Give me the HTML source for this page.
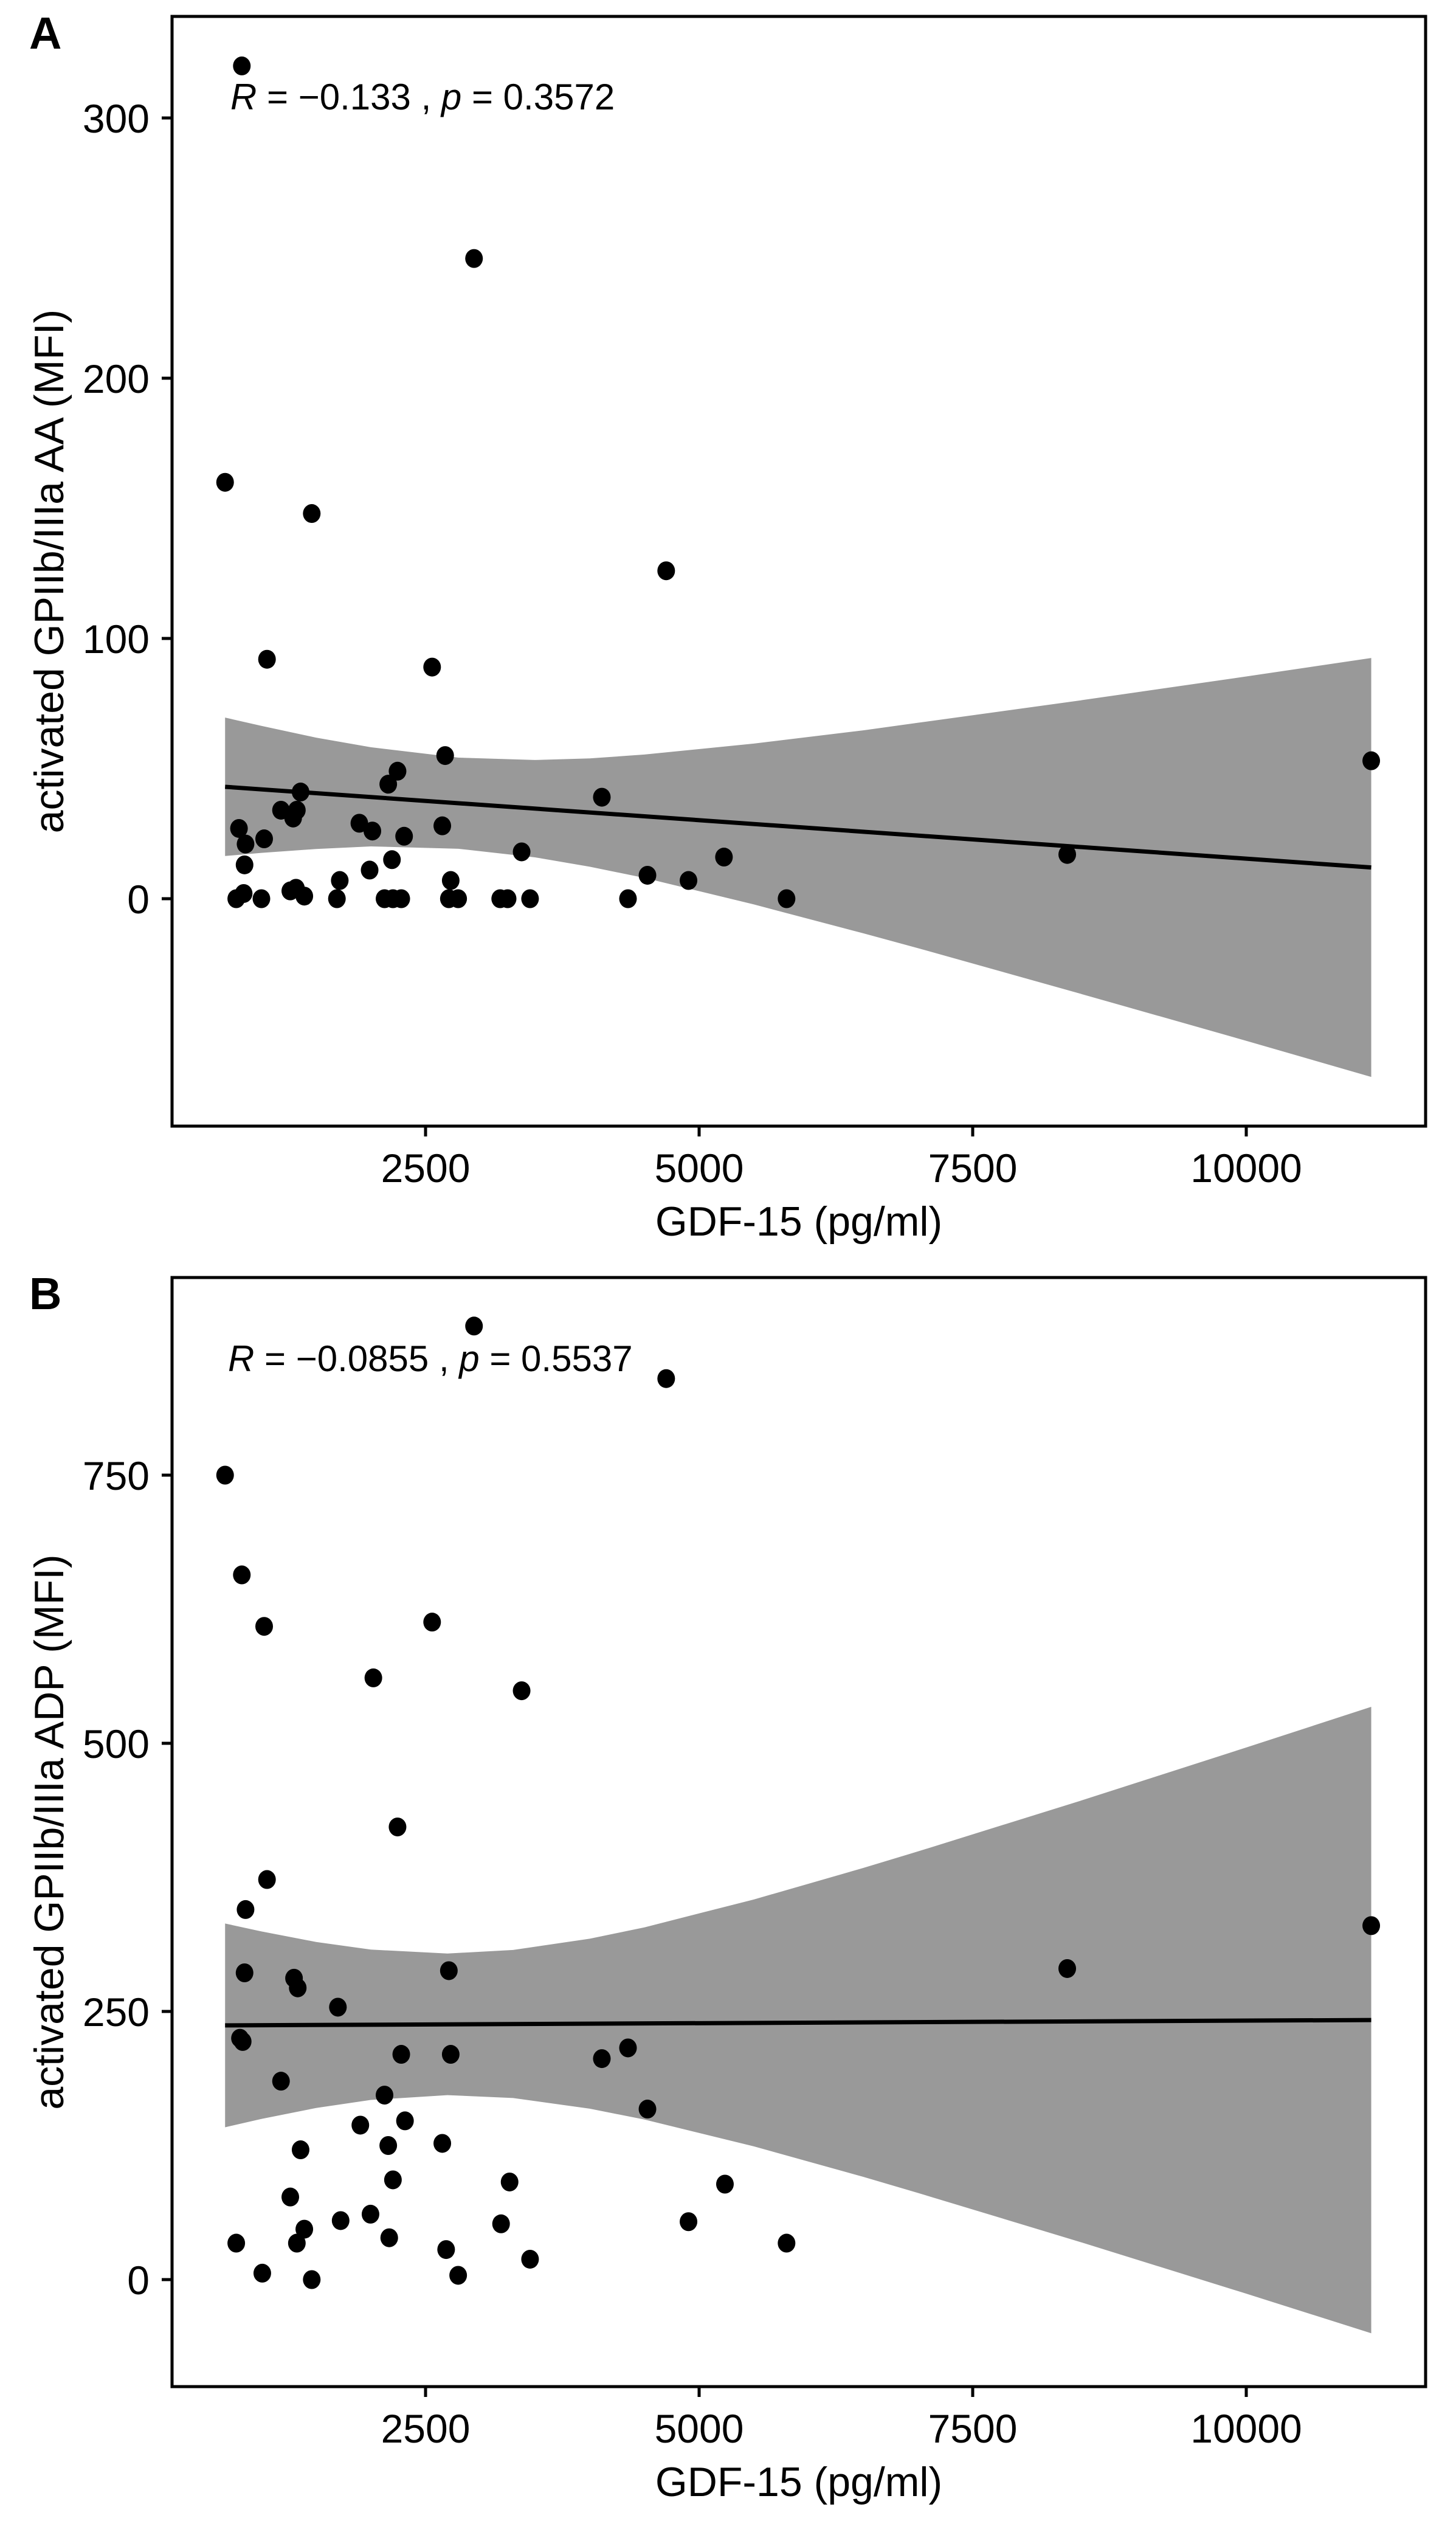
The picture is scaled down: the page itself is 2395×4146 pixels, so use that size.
<!DOCTYPE html>
<html><head><meta charset="utf-8">
<style>
html,body{margin:0;padding:0;background:#fff;}
svg{display:block;}
text{font-family:"Liberation Sans",Arial,sans-serif;fill:#000;}
</style></head>
<body>
<svg id="fig" width="2395" height="4146" viewBox="0 0 2395 4146" xmlns="http://www.w3.org/2000/svg">
<rect x="0" y="0" width="2395" height="4146" fill="#ffffff"/>
</svg>
<script>
// ---------- shared x data ----------
const xTicks = [2500, 5000, 7500, 10000];
const xTickLabels = ["2500", "5000", "7500", "10000"];

// ---------- Panel A data ----------
const aGdf = [821,668,2943,1460,4699,1051,2560,2679,11142,2244,2159,1358,4111,1179,1324,1290,795,1895,2014,2653,1025,2304,855,3378,5227,8364,2193,846,1989,4528,4903,1716,2730,1264,1316,1392,838,770,1000,1690,2125,2202,2278,2713,2798,3182,3250,3455,4350,5799];
const aVal = [320,160,246,148,126,92,89,55,53,49,44,41,39,34,34,31,27,29,26,28,23,24,21,18,16,17,15,13,11,9,7,7,7,3,4,1,2,0,0,0,0,0,0,0,0,0,0,0,0,0];
const aYTicks = [0, 100, 200, 300];
const aYTickLabels = ["0", "100", "200", "300"];
const aBandX = [668,1000,1500,2000,2800,3500,4000,4500,5500,6500,7000,8500,10000,11142];
const aBandUpper = [69.6,66.4,61.9,58.2,54.2,53.3,53.9,55.4,59.6,64.7,67.6,76.3,85.4,92.5];
const aBandLower = [16.4,17.6,19.1,20.1,19.2,15.9,12.3,8.0,-2.2,-13.3,-19,-36.7,-54.6,-68.5];
const aFitX = [668, 11142];
const aFitY = [43, 12];

// ---------- Panel B data ----------
const bGdf = [2943,4699,668,821,1025,2560,2023,3378,2244,1051,855,11142,2713,846,8364,1298,1332,1699,804,829,2278,2730,4111,4350,1179,2125,4528,2312,1904,2653,2159,1358,3268,2202,5236,1264,1997,1724,3190,4903,1392,2168,770,1324,2688,5799,3455,1008,2798,1460];
const bVal = [889,840,750,657,609,613,561,549,422,373,345,330,288,286,290,281,272,254,225,222,210,210,206,216,185,172,159,148,144,127,125,121,91,93,89,77,61,55,52,54,47,39,34,34,28,34,19,6,4,0];
const bYTicks = [0, 250, 500, 750];
const bYTickLabels = ["0", "250", "500", "750"];
const bBandX = [668,1000,1500,2000,2700,3300,4000,4500,5500,6500,7000,8500,10000,11142];
const bBandUpper = [332,324.6,314.8,307.7,304,307.3,317.8,328.4,354.4,383.8,399.2,446.9,496.1,534];
const bBandLower = [142,149.8,160,167.5,172,169.3,159.4,149.2,124.2,95.8,80.8,34.5,-13.1,-50];
const bFitX = [668, 11142];
const bFitY = [237, 242];

const NS = "http://www.w3.org/2000/svg";
const svg = document.getElementById("fig");
function mk(tag, attrs, parent) {
  const e = document.createElementNS(NS, tag);
  for (const k in attrs) e.setAttribute(k, attrs[k]);
  (parent || svg).appendChild(e);
  return e;
}
const FL = 283, FR = 2345;
function xScale(v) { return 250 + v * 0.18; }

function panel(cfg) {
  const g = mk("g", {});
  
  
  const yScale = v => cfg.y0 - v * cfg.pxPerUnit;

  let pts = [];
  for (let i = 0; i < cfg.bandX.length; i++) pts.push(xScale(cfg.bandX[i]) + "," + yScale(cfg.bandUpper[i]));
  for (let i = cfg.bandX.length - 1; i >= 0; i--) pts.push(xScale(cfg.bandX[i]) + "," + yScale(cfg.bandLower[i]));
  const band = mk("polygon", {points: pts.join(" "), fill: "#999999"}, g);
  
  

  const fit = mk("line", {x1: xScale(cfg.fitX[0]), y1: yScale(cfg.fitY[0]), x2: xScale(cfg.fitX[1]), y2: yScale(cfg.fitY[1]), stroke: "#000", "stroke-width": 7}, g);
  
  

  for (let i = 0; i < cfg.xs.length; i++) {
    const c = mk("ellipse", {cx: xScale(cfg.xs[i]), cy: yScale(cfg.ys[i]), rx: 14.5, ry: 15.5, fill: "#000"}, g);
    
    
  }

  const fr = mk("rect", {x: FL, y: cfg.top, width: FR - FL, height: cfg.bottom - cfg.top, fill: "none", stroke: "#000", "stroke-width": 5}, g);
  
  

  for (let i = 0; i < cfg.yTicks.length; i++) {
    const y = yScale(cfg.yTicks[i]);
    const t = mk("line", {x1: FL - 17, y1: y, x2: FL, y2: y, stroke: "#000", "stroke-width": 5}, g);
    
    
    const l = mk("text", {x: 246, y: y + 24, "text-anchor": "end", "font-size": 66}, g);
    l.textContent = cfg.yTickLabels[i];
    
    
  }
  for (let i = 0; i < xTicks.length; i++) {
    const x = xScale(xTicks[i]);
    const t = mk("line", {x1: x, y1: cfg.bottom, x2: x, y2: cfg.bottom + 17, stroke: "#000", "stroke-width": 5}, g);
    
    
    const l = mk("text", {x: x, y: cfg.bottom + 92, "text-anchor": "middle", "font-size": 66}, g);
    l.textContent = xTickLabels[i];
    
    
  }
  const xt = mk("text", {x: (FL + FR) / 2, y: cfg.bottom + 180, "text-anchor": "middle", "font-size": 68}, g);
  xt.textContent = "GDF-15 (pg/ml)";
  
  
  const yc = (cfg.top + cfg.bottom) / 2;
  const yt = mk("text", {x: 0, y: 0, "text-anchor": "middle", "font-size": 68, transform: "translate(104," + yc + ") rotate(-90)"}, g);
  yt.textContent = cfg.yTitle;
  
  
  const an = mk("text", {x: cfg.annX, y: cfg.annY, "font-size": 60}, g);
  
  
  const t1 = mk("tspan", {"font-style": "italic"}, an); t1.textContent = "R";
  const t2 = mk("tspan", {}, an); t2.textContent = " = \u2212" + cfg.r + " , ";
  const t3 = mk("tspan", {"font-style": "italic"}, an); t3.textContent = "p";
  const t4 = mk("tspan", {}, an); t4.textContent = " = " + cfg.p;
  const pl = mk("text", {x: 48, y: cfg.labelY, "font-size": 74, "font-weight": "bold"}, g);
  pl.textContent = cfg.label;
  
  
}

panel({name: "panel-a", label: "A", labelY: 80, top: 27, bottom: 1852, y0: 1478, pxPerUnit: 4.28,
  xs: aGdf, ys: aVal, yTicks: aYTicks, yTickLabels: aYTickLabels,
  bandX: aBandX, bandUpper: aBandUpper, bandLower: aBandLower, fitX: aFitX, fitY: aFitY,
  yTitle: "activated GPIIb/IIIa AA (MFI)", annX: 379, annY: 180, r: "0.133", p: "0.3572"});
panel({name: "panel-b", label: "B", labelY: 2153, top: 2101, bottom: 3925, y0: 3749, pxPerUnit: 1.764,
  xs: bGdf, ys: bVal, yTicks: bYTicks, yTickLabels: bYTickLabels,
  bandX: bBandX, bandUpper: bBandUpper, bandLower: bBandLower, fitX: bFitX, fitY: bFitY,
  yTitle: "activated GPIIb/IIIa ADP (MFI)", annX: 375, annY: 2255, r: "0.0855", p: "0.5537"});
</script>
</body></html>
